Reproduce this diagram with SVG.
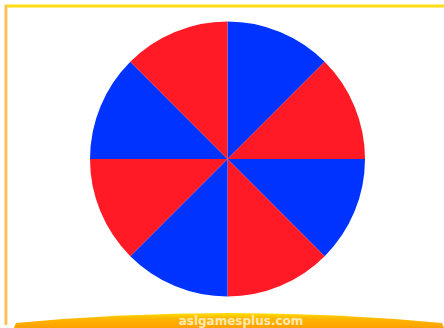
<svg xmlns="http://www.w3.org/2000/svg" width="444" height="328" viewBox="0 0 444 328">
<defs>
<style>
.b{fill:#0033ff}
.r{fill:#ff1a26}
.site{font-family:"DejaVu Sans",sans-serif;font-weight:bold;font-size:12px;fill:#ffe9b0}
</style>
<linearGradient id="ban" x1="0" y1="0" x2="0" y2="1">
<stop offset="0" stop-color="#ffe000"/>
<stop offset="0.35" stop-color="#ffb800"/>
<stop offset="1" stop-color="#ffa000"/>
</linearGradient>
</defs>
<rect width="444" height="328" fill="#ffffff"/>
<rect x="5" y="4.5" width="439" height="3" fill="#ffdc14"/>
<rect x="4.5" y="5" width="2.5" height="320" fill="#ffbe5a"/>
<rect x="7" y="7.5" width="1" height="317" fill="#ffe6b4"/>
<g id="wheel">
<path class="b" d="M227.5 159 L227.5 21.5 A137.5 137.5 0 0 1 324.7 61.8 Z"/>
<path class="r" d="M227.5 159 L324.7 61.8 A137.5 137.5 0 0 1 365 159 Z"/>
<path class="b" d="M227.5 159 L365 159 A137.5 137.5 0 0 1 324.7 256.2 Z"/>
<path class="r" d="M227.5 159 L324.7 256.2 A137.5 137.5 0 0 1 227.5 296.5 Z"/>
<path class="b" d="M227.5 159 L227.5 296.5 A137.5 137.5 0 0 1 130.3 256.2 Z"/>
<path class="r" d="M227.5 159 L130.3 256.2 A137.5 137.5 0 0 1 90 159 Z"/>
<path class="b" d="M227.5 159 L90 159 A137.5 137.5 0 0 1 130.3 61.8 Z"/>
<path class="r" d="M227.5 159 L130.3 61.8 A137.5 137.5 0 0 1 227.5 21.5 Z"/>
</g>
<path d="M14 328 L16 323 Q228 303 442 323 L444 328 Z" fill="url(#ban)"/>
<text class="site" x="241" y="325" text-anchor="middle">aslgamesplus.com</text>
</svg>
